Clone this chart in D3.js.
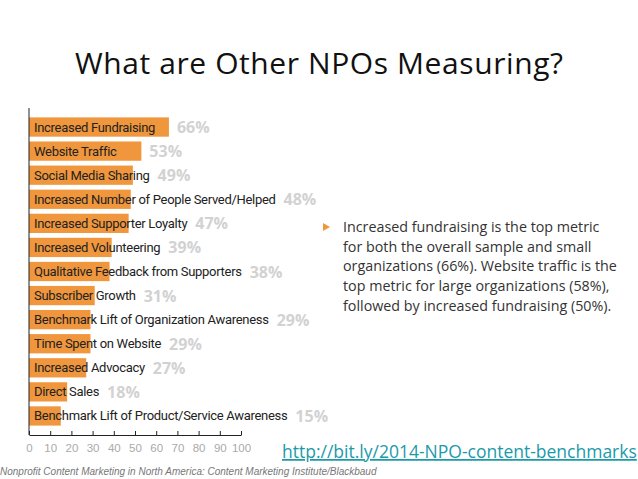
<!DOCTYPE html>
<html><head><meta charset="utf-8">
<script src="https://cdn.jsdelivr.net/npm/d3@7"></script>
<style>body{margin:0;background:#fff}</style>
</head><body>
<svg id="c" width="638" height="479"></svg>
<script>
const categories = ["Increased Fundraising","Website Traffic","Social Media Sharing","Increased Number of People Served/Helped","Increased Supporter Loyalty","Increased Volunteering","Qualitative Feedback from Supporters","Subscriber Growth","Benchmark Lift of Organization Awareness","Time Spent on Website","Increased Advocacy","Direct Sales","Benchmark Lift of Product/Service Awareness"];
const values = [66,53,49,48,47,39,38,31,29,29,27,18,15];
const ticks = [0,10,20,30,40,50,60,70,80,90,100];
const bullet = ["Increased fundraising is the top metric","for both the overall sample and small","organizations (66%). Website traffic is the","top metric for large organizations (58%),","followed by increased fundraising (50%)."];

const svg = d3.select("#c");
svg.append("text").attr("x",319).attr("y",74).attr("text-anchor","middle")
  .attr("font-family","Open Sans, sans-serif").attr("font-size",30).attr("fill","#111")
  .attr("textLength",488).text("What are Other NPOs Measuring?");

const x = d3.scaleLinear().domain([0,100]).range([29,241]);
const y = d3.scaleBand().domain(categories).range([115,428]).paddingInner(0.2).paddingOuter(0.1);

const g = svg.append("g");
g.selectAll("rect").data(values).enter().append("rect")
  .attr("x",x(0)).attr("y",(d,i)=>y(categories[i])).attr("width",d=>x(d)-x(0))
  .attr("height",y.bandwidth()).attr("fill","#f0963c");
g.selectAll("text.lab").data(categories).enter().append("text").attr("class","lab")
  .attr("x",x(0)+5).attr("y",d=>y(d)+y.bandwidth()/2+4.5)
  .attr("font-family","Liberation Sans Narrow, Roboto, sans-serif").attr("font-size",13).attr("fill","#222")
  .attr("letter-spacing","-0.3").text(d=>d);
g.selectAll("text.val").data(values).enter().append("text").attr("class","val")
  .attr("y",(d,i)=>y(categories[i])+y.bandwidth()/2+6)
  .attr("font-family","Open Sans, sans-serif").attr("font-weight","bold").attr("font-size",16).attr("fill","#d2d2d2")
  .text(d=>d+"%")
  .attr("x",function(d,i){
    const lab = g.selectAll("text.lab").nodes()[i];
    return Math.max(x(d), lab.getComputedTextLength()+x(0)+5)+8;
  });

svg.append("line").attr("x1",x(0)).attr("x2",x(0)).attr("y1",108).attr("y2",435).attr("stroke","#222");
const ax = svg.append("g").attr("transform","translate(0,435)")
  .call(d3.axisBottom(x).tickValues(ticks).tickSize(4).tickSizeOuter(0));
ax.select(".domain").attr("stroke","#222");
ax.selectAll(".tick line").attr("stroke","#222").attr("transform","translate(0,-4)");
ax.selectAll(".tick text").attr("font-family","Liberation Sans Narrow, sans-serif").attr("font-size",11.5).attr("fill","#aaa").attr("dy","0.9em");

svg.append("text").attr("x",0).attr("y",475).attr("font-family","Liberation Sans Narrow, sans-serif")
  .attr("font-style","italic").attr("font-size",10).attr("fill","#777")
  .text("Nonprofit Content Marketing in North America: Content Marketing Institute/Blackbaud");

svg.append("path").attr("d","M323,223 L330,227 L323,231 Z").attr("fill","#f0963c");
svg.selectAll("text.b").data(bullet).enter().append("text").attr("class","b")
  .attr("x",343).attr("y",(d,i)=>232+i*19.7).attr("font-family","Open Sans, sans-serif")
  .attr("font-size",14.3).attr("fill","#333").text(d=>d);

svg.append("text").attr("x",282).attr("y",458).attr("font-family","Open Sans, sans-serif")
  .attr("font-size",17.5).attr("fill","#1b9aaa").attr("text-decoration","underline")
  .text("http://bit.ly/2014-NPO-content-benchmarks");
</script>
</body></html>
